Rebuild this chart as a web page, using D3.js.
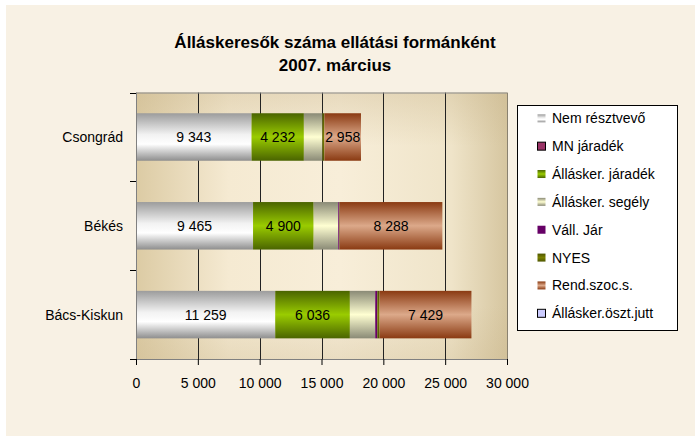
<!DOCTYPE html>
<html><head><meta charset="utf-8">
<script src="https://cdn.jsdelivr.net/npm/d3@7"></script>
<style>
html,body{margin:0;padding:0;background:#fff;}
svg{display:block;font-family:"Liberation Sans",Arial,sans-serif;}
</style></head><body>
<svg id="c" width="695" height="436"></svg>
<script>
const categories = ["Csongrád", "Békés", "Bács-Kiskun"];
const seriesNames = ["Nem résztvevő", "MN járadék", "Állásker. járadék", "Állásker. segély", "Váll. Jár", "NYES", "Rend.szoc.s.", "Állásker.öszt.jutt"];
const nemResztvevo = [9343, 9465, 11259];
const mnJaradek = [0, 0, 0];
const allaskerJaradek = [4232, 4900, 6036];
const allaskerSegely = [1500, 1990, 2050];
const vallJar = [0, 90, 170];
const nyes = [160, 40, 180];
const rendSzoc = [2958, 8288, 7429];
const osztJutt = [0, 0, 0];
const xTicks = [0, 5000, 10000, 15000, 20000, 25000, 30000];
const labelledSeries = [0, 2, 6];

const seriesValues = [nemResztvevo, mnJaradek, allaskerJaradek, allaskerSegely, vallJar, nyes, rendSzoc, osztJutt];

const svg = d3.select("#c");
const defs = svg.append("defs");

function vgrad(id, stops) {
  const g = defs.append("linearGradient").attr("id", id).attr("x1", 0).attr("y1", 0).attr("x2", 0).attr("y2", 1);
  stops.forEach(s => g.append("stop").attr("offset", s[0]).attr("stop-color", s[1]));
}
vgrad("g0", [[0, "#9c9c9c"], [0.45, "#f2f2f2"], [0.65, "#ffffff"], [1, "#8e8e8e"]]);
vgrad("g2", [[0, "#4a6400"], [0.5, "#9acc00"], [1, "#4a6400"]]);
vgrad("g3", [[0, "#8a8a76"], [0.5, "#ffffd2"], [1, "#8a8a76"]]);
vgrad("g5", [[0, "#4e5600"], [0.5, "#7a8000"], [1, "#4e5600"]]);
vgrad("g6", [[0, "#8a3a12"], [0.5, "#dca98a"], [1, "#8a3a12"]]);
const fills = ["url(#g0)", "#993366", "url(#g2)", "url(#g3)", "#660066", "url(#g5)", "url(#g6)", "#ccccff"];
const strokes = [null, "#000", null, null, null, null, null, "#000"];

// plot bg gradients
const pg = defs.append("linearGradient").attr("id", "pbg").attr("x1", 0).attr("y1", 0).attr("x2", 1).attr("y2", 0);
[[0, "#dccba4"], [0.25, "#f5ead2"], [0.55, "#f8eed9"], [0.85, "#efe4c9"], [1, "#d6c6a0"]].forEach(s => pg.append("stop").attr("offset", s[0]).attr("stop-color", s[1]));
const pv = defs.append("linearGradient").attr("id", "pbgv").attr("x1", 0).attr("y1", 0).attr("x2", 0).attr("y2", 1);
[[0, "#c8b48a", 0.35], [0.2, "#c8b48a", 0], [0.8, "#c8b48a", 0], [1, "#c8b48a", 0.3]].forEach(s => pv.append("stop").attr("offset", s[0]).attr("stop-color", s[1]).attr("stop-opacity", s[2]));

// chart area bg
svg.append("rect").attr("x", 6).attr("y", 5).attr("width", 689).attr("height", 431).attr("fill", "#f8f1e4");

const x = d3.scaleLinear().domain([0, 30000]).range([136, 507]);
const y = d3.scaleBand().domain(categories).range([92.6, 359]).padding(0);
const barH = y.bandwidth() * 0.535;

// plot area
svg.append("rect").attr("x", x(0)).attr("y", 92.6).attr("width", x(30000) - x(0)).attr("height", 359 - 92.6).attr("fill", "url(#pbg)");
svg.append("rect").attr("x", x(0)).attr("y", 92.6).attr("width", x(30000) - x(0)).attr("height", 359 - 92.6).attr("fill", "url(#pbgv)");

// gridlines
svg.append("g").selectAll("line").data(xTicks.slice(1)).join("line")
  .attr("x1", d => Math.round(x(d)) + 0.5).attr("x2", d => Math.round(x(d)) + 0.5)
  .attr("y1", 92.6).attr("y2", 359)
  .attr("stroke", d => d === 30000 ? "#8a8270" : "#222").attr("stroke-width", 1);
svg.append("line").attr("x1", x(0)).attr("x2", x(30000)).attr("y1", 93).attr("y2", 93).attr("stroke", "#8a8a8a");

// stacked bars
const stackData = categories.map((c, i) => {
  const o = { cat: c };
  seriesNames.forEach((s, j) => o[j] = seriesValues[j][i]);
  return o;
});
const stack = d3.stack().keys(d3.range(seriesNames.length))(stackData);
const fmt = v => d3.format(",")(v).replace(/,/g, " ");

stack.forEach((layer, j) => {
  const g = svg.append("g");
  g.selectAll("rect").data(layer).join("rect")
    .attr("x", d => x(d[0]))
    .attr("width", d => Math.max(0, x(d[1]) - x(d[0])))
    .attr("y", d => y(d.data.cat) + (y.bandwidth() - barH) / 2)
    .attr("height", barH)
    .attr("fill", fills[j]);
  if (labelledSeries.includes(j)) {
    g.selectAll("text").data(layer).join("text")
      .attr("x", d => (x(d[0]) + x(d[1])) / 2)
      .attr("y", d => y(d.data.cat) + y.bandwidth() / 2)
      .attr("dy", "0.36em").attr("text-anchor", "middle")
      .attr("font-size", 14).attr("fill", "#000")
      .text(d => fmt(d[1] - d[0]));
  }
});

// axes
const xAxis = d3.axisBottom(x).tickValues(xTicks).tickSize(6).tickFormat(fmt);
const gx = svg.append("g").attr("transform", "translate(0,359)").call(xAxis);
gx.select(".domain").attr("stroke", "#808080").attr("d", `M${x(0)},0.5H${x(30000)}`);
gx.selectAll(".tick line").attr("stroke", "#000");
gx.selectAll(".tick text").attr("font-size", 14).attr("fill", "#000").attr("y", 23.5).attr("dy", "0.36em").attr("font-family", "Liberation Sans, Arial, sans-serif");

const gy = svg.append("g").attr("transform", `translate(${x(0)},0)`);
gy.append("line").attr("x1", 0.5).attr("x2", 0.5).attr("y1", 92.6).attr("y2", 359).attr("stroke", "#808080");
const boundaries = [92.6].concat(categories.map(c => y(c) + y.bandwidth()));
gy.selectAll(".tk").data(boundaries).join("line").attr("class", "tk")
  .attr("x1", -6).attr("x2", 0).attr("y1", d => Math.round(d) + 0.5).attr("y2", d => Math.round(d) + 0.5).attr("stroke", "#000");
gy.selectAll("text").data(categories).join("text")
  .attr("x", -13).attr("y", d => y(d) + y.bandwidth() / 2).attr("dy", "0.36em")
  .attr("text-anchor", "end").attr("font-size", 14).attr("fill", "#000").text(d => d);

// title
const t = svg.append("text").attr("x", 335).attr("text-anchor", "middle").attr("font-weight", "bold").attr("font-size", 17).attr("fill", "#000");
t.append("tspan").attr("x", 335).attr("y", 47.5).text("Álláskeresők száma ellátási formánként");
t.append("tspan").attr("x", 335).attr("y", 70.5).text("2007. március");

// legend
const lg = svg.append("g");
lg.append("rect").attr("x", 517.5).attr("y", 105.5).attr("width", 160).attr("height", 225).attr("fill", "#fff").attr("stroke", "#000");
const legY = d3.scalePoint().domain(seriesNames).range([118.3, 313.3]);
seriesNames.forEach((s, j) => {
  const cy = legY(s);
  lg.append("rect").attr("x", 537.5).attr("y", cy - 4).attr("width", 8).attr("height", 8)
    .attr("fill", fills[j]).attr("stroke", strokes[j] || "none");
  lg.append("text").attr("x", 552).attr("y", cy).attr("dy", "0.36em").attr("font-size", 14).attr("fill", "#000").text(s);
});
</script>
</body></html>
